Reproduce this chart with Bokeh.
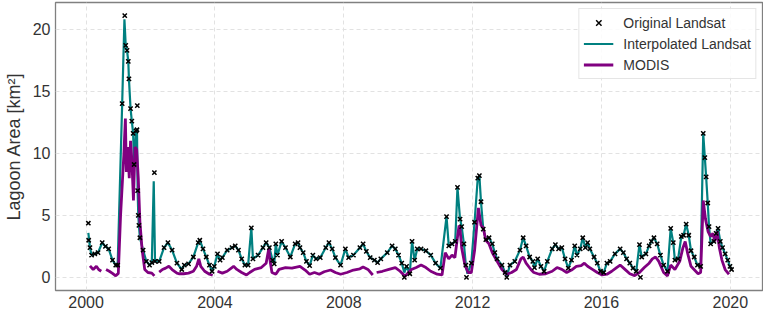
from bokeh.plotting import figure
from bokeh.models import Legend, LegendItem, FixedTicker
from bokeh.embed import file_html
from bokeh.resources import INLINE

nan = float("nan")

x_ticks = [2000, 2004, 2008, 2012, 2016, 2020]
x_tick_labels = ["2000", "2004", "2008", "2012", "2016", "2020"]
y_ticks = [0, 5, 10, 15, 20]
y_tick_labels = ["0", "5", "10", "15", "20"]

# Interpolated Landsat (teal line)
interp_years = [
    2000.07, 2000.12, 2000.17, 2000.27, 2000.37, 2000.50, 2000.60, 2000.70, 2000.82, 2000.92, 2000.98,
    2001.12, 2001.19, 2001.23, 2001.27, 2001.31, 2001.33, 2001.38, 2001.42, 2001.46, 2001.49,
    2001.55, 2001.58, 2001.60, 2001.62, 2001.64, 2001.67, 2001.77, 2001.87, 2001.97,
    2002.04, 2002.10, 2002.14, 2002.27, 2002.42, 2002.54, 2002.67, 2002.82, 2002.97,
    2003.05, 2003.18, 2003.33, 2003.48, 2003.53, 2003.63, 2003.73, 2003.83, 2003.91, 2003.98,
    2004.08, 2004.16, 2004.23, 2004.38, 2004.53, 2004.63, 2004.73, 2004.83, 2004.93,
    2005.03, 2005.13, 2005.18, 2005.34, 2005.49, 2005.59, 2005.69, 2005.79, 2005.84, 2005.89, 2005.94,
    2006.07, 2006.19, 2006.34, 2006.49, 2006.58, 2006.64, 2006.74, 2006.84, 2006.94,
    2007.04, 2007.14, 2007.27, 2007.44, 2007.54, 2007.64, 2007.74, 2007.90,
    2008.05, 2008.15, 2008.30, 2008.50, 2008.60, 2008.70, 2008.82, 2008.95,
    2009.05, 2009.15, 2009.35, 2009.50, 2009.60, 2009.70, 2009.80, 2009.88, 2009.95,
    2010.05, 2010.12, 2010.20, 2010.28, 2010.40, 2010.55, 2010.70, 2010.85,
    2011.00, 2011.19, 2011.26, 2011.36, 2011.46, 2011.53, 2011.61, 2011.66, 2011.73, 2011.79, 2011.84, 2011.96,
    2012.06, 2012.16, 2012.21, 2012.26, 2012.33, 2012.41, 2012.51, 2012.61, 2012.69, 2012.76, 2012.91,
    2013.01, 2013.06, 2013.16, 2013.31, 2013.47, 2013.57, 2013.66, 2013.77, 2013.87, 2013.92,
    2014.02, 2014.12, 2014.22, 2014.32, 2014.47, 2014.57, 2014.67, 2014.77, 2014.87, 2014.97,
    2015.07, 2015.17, 2015.24, 2015.34, 2015.42, 2015.50, 2015.57, 2015.64, 2015.77, 2015.87, 2015.97,
    2016.07, 2016.17, 2016.27, 2016.42, 2016.58, 2016.68, 2016.78, 2016.88, 2016.98,
    2017.08, 2017.18, 2017.25, 2017.38, 2017.48, 2017.55, 2017.63, 2017.73, 2017.83, 2017.93,
    2018.05, 2018.15, 2018.23, 2018.28, 2018.38, 2018.48, 2018.55, 2018.63, 2018.71, 2018.78, 2018.88, 2018.98,
    2019.08, 2019.16, 2019.21, 2019.25, 2019.30, 2019.34, 2019.39, 2019.49, 2019.56, 2019.62, 2019.69, 2019.76,
    2019.84, 2019.92, 2019.99, 2020.04,
]
interp_area = [
    3.6, 2.4, 1.8, 1.9, 2.0, 2.8, 2.5, 2.3, 1.4, 1.0, 1.0,
    14.0, 20.8, 18.7, 18.3, 17.4, 16.0, 13.6, 12.6, 11.6, 9.1,
    11.8, 11.9, 7.0, 5.0, 4.2, 3.2, 2.2, 1.3, 1.0,
    1.2, 7.75, 1.3, 1.3, 2.4, 2.8, 2.2, 1.15, 0.64,
    1.0, 1.1, 1.65, 2.8, 3.0, 2.3, 1.65, 1.0, 0.5, 0.9,
    1.9, 1.4, 1.6, 2.2, 2.4, 2.55, 2.2, 1.5, 1.0,
    1.0, 4.0, 1.5, 1.8, 2.4, 2.8, 2.4, 1.4, 1.1, 2.7, 1.8,
    2.9, 2.4, 1.65, 2.7, 2.8, 2.4, 2.0, 1.3, 0.95,
    1.8, 1.5, 1.6, 2.4, 2.8, 2.3, 1.6, 1.0,
    2.3, 1.6, 1.8, 2.4, 2.7, 2.1, 1.6, 1.4,
    1.2, 1.5, 2.0, 2.55, 2.3, 1.8, 1.15, 0.4, 0.9,
    0.3, 2.9, 1.4, 2.3, 2.3, 2.15, 1.8, 1.15,
    0.75, 4.9, 2.55, 2.7, 2.9, 7.25, 4.7, 4.1, 2.7, 1.0, 0.3, 1.15,
    4.45, 8.0, 8.2, 6.1, 3.9, 3.05, 3.2, 2.7, 2.0, 1.5, 1.0,
    0.4, 0.1, 1.0, 1.3, 2.2, 3.2, 2.55, 1.65, 1.3, 0.8,
    1.5, 0.9, 0.5, 1.3, 2.3, 2.65, 2.3, 2.4, 1.5, 0.76,
    1.4, 2.55, 1.8, 2.3, 3.2, 2.4, 2.8, 2.3, 1.65, 1.15, 0.5,
    0.4, 1.15, 1.3, 1.9, 2.3, 2.0, 1.5, 1.15, 0.76,
    0.5, 2.65, 1.65, 1.9, 2.55, 2.9, 3.2, 2.7, 1.8, 1.0,
    0.5, 3.95, 2.8, 1.4, 1.5, 3.3, 3.4, 4.3, 3.4, 2.15, 1.65, 1.0,
    0.9, 11.6, 9.65, 8.1, 6.0, 4.1, 2.7, 2.9, 3.55, 3.95, 2.9, 2.4,
    1.9, 1.4, 0.9, 0.64,
]

# Original Landsat observations (black crosses)
landsat_years = [
    2000.07, 2000.08, 2000.12, 2000.17, 2000.27, 2000.37, 2000.50, 2000.60, 2000.70, 2000.82, 2000.92, 2000.98,
    2001.12, 2001.20, 2001.23, 2001.27, 2001.31, 2001.33, 2001.38, 2001.42, 2001.46, 2001.49,
    2001.55, 2001.58, 2001.59, 2001.60, 2001.62, 2001.64, 2001.67, 2001.77, 2001.87, 2001.97,
    2002.04, 2002.12, 2002.14, 2002.27, 2002.42, 2002.54, 2002.67, 2002.82, 2002.97,
    2003.05, 2003.18, 2003.33, 2003.48, 2003.53, 2003.63, 2003.73, 2003.83, 2003.91, 2003.98,
    2004.08, 2004.16, 2004.23, 2004.38, 2004.53, 2004.63, 2004.73, 2004.83, 2004.93,
    2005.03, 2005.13, 2005.18, 2005.34, 2005.49, 2005.59, 2005.69, 2005.79, 2005.84, 2005.89, 2005.94,
    2006.07, 2006.19, 2006.34, 2006.49, 2006.58, 2006.64, 2006.74, 2006.84, 2006.94,
    2007.04, 2007.14, 2007.27, 2007.44, 2007.54, 2007.64, 2007.74, 2007.90,
    2008.05, 2008.15, 2008.30, 2008.50, 2008.60, 2008.70, 2008.82, 2008.95,
    2009.05, 2009.15, 2009.35, 2009.50, 2009.60, 2009.70, 2009.80, 2009.88, 2009.95,
    2010.05, 2010.12, 2010.20, 2010.28, 2010.40, 2010.55, 2010.70, 2010.85,
    2011.00, 2011.19, 2011.26, 2011.36, 2011.46, 2011.53, 2011.61, 2011.66, 2011.73, 2011.79, 2011.81, 2011.96,
    2012.06, 2012.16, 2012.21, 2012.26, 2012.33, 2012.41, 2012.51, 2012.61, 2012.69, 2012.76, 2012.91,
    2013.01, 2013.06, 2013.16, 2013.31, 2013.47, 2013.57, 2013.66, 2013.77, 2013.87, 2013.92,
    2014.02, 2014.12, 2014.22, 2014.32, 2014.47, 2014.57, 2014.67, 2014.77, 2014.87, 2014.97,
    2015.07, 2015.17, 2015.24, 2015.34, 2015.42, 2015.50, 2015.57, 2015.64, 2015.77, 2015.87, 2015.97,
    2016.07, 2016.17, 2016.27, 2016.42, 2016.58, 2016.68, 2016.78, 2016.88, 2016.98,
    2017.08, 2017.18, 2017.21, 2017.25, 2017.38, 2017.48, 2017.55, 2017.63, 2017.73, 2017.83, 2017.93,
    2018.05, 2018.15, 2018.23, 2018.28, 2018.38, 2018.48, 2018.55, 2018.63, 2018.71, 2018.78, 2018.88, 2018.98,
    2019.08, 2019.16, 2019.21, 2019.25, 2019.30, 2019.34, 2019.39, 2019.49, 2019.56, 2019.62, 2019.69, 2019.76,
    2019.84, 2019.92, 2019.99, 2020.04,
]
landsat_area = [
    4.37, 3.0, 2.4, 1.8, 1.9, 2.0, 2.8, 2.5, 2.3, 1.4, 1.0, 1.0,
    14.0, 21.1, 18.7, 18.3, 17.4, 16.0, 13.6, 12.6, 11.6, 9.1,
    11.8, 11.9, 13.85, 7.0, 5.0, 4.2, 3.2, 2.2, 1.3, 1.0,
    1.2, 8.44, 1.3, 1.3, 2.4, 2.8, 2.2, 1.15, 0.64,
    1.0, 1.1, 1.65, 2.8, 3.0, 2.3, 1.65, 1.0, 0.5, 0.9,
    1.9, 1.4, 1.6, 2.2, 2.4, 2.55, 2.2, 1.5, 1.0,
    1.0, 4.0, 1.5, 1.8, 2.4, 2.8, 2.4, 1.4, 1.1, 2.7, 1.8,
    2.9, 2.4, 1.65, 2.7, 2.8, 2.4, 2.0, 1.3, 0.95,
    1.8, 1.5, 1.6, 2.4, 2.8, 2.3, 1.6, 1.0,
    2.3, 1.6, 1.8, 2.4, 2.7, 2.1, 1.6, 1.4,
    1.2, 1.5, 2.0, 2.55, 2.3, 1.8, 1.15, 0.0, 0.9,
    0.3, 2.9, 1.4, 2.3, 2.3, 2.15, 1.8, 1.15,
    0.75, 4.9, 2.55, 2.7, 2.9, 7.25, 4.7, 4.1, 2.7, 1.0, 0.0, 1.15,
    4.45, 8.0, 8.2, 6.1, 3.9, 3.05, 3.2, 2.7, 2.0, 1.5, 1.0,
    0.4, 0.0, 1.0, 1.3, 2.2, 3.2, 2.55, 1.65, 1.3, 0.8,
    1.5, 0.9, 0.5, 1.3, 2.3, 2.65, 2.3, 2.4, 1.5, 0.76,
    1.4, 2.55, 1.8, 2.3, 3.2, 2.4, 2.8, 2.3, 1.65, 1.15, 0.5,
    0.4, 1.15, 1.3, 1.9, 2.3, 2.0, 1.5, 1.15, 0.76,
    0.5, 2.65, 0.0, 1.65, 1.9, 2.55, 2.9, 3.2, 2.7, 1.8, 1.0,
    0.5, 3.95, 2.8, 1.4, 1.5, 3.3, 3.4, 4.3, 3.4, 2.15, 1.65, 1.0,
    0.9, 11.6, 9.65, 8.1, 6.0, 4.1, 2.7, 2.9, 3.55, 3.95, 2.9, 2.4,
    1.9, 1.4, 0.9, 0.64,
]

# MODIS (purple line, gaps as nan)
modis_years = [
    2000.12, 2000.22, 2000.32, 2000.39, 2000.47, 2000.54, 2000.62, 2000.72, 2000.82, 2000.92, 2001.00,
    2001.07, 2001.17, 2001.22, 2001.25, 2001.29, 2001.34, 2001.38, 2001.42, 2001.47, 2001.52,
    2001.57, 2001.62, 2001.67, 2001.74, 2001.82, 2001.92, 2002.04, 2002.12, 2002.20,
    2002.27, 2002.37, 2002.47, 2002.57, 2002.67, 2002.82, 2002.88, 2003.03, 2003.18,
    2003.33, 2003.43, 2003.50, 2003.56, 2003.68, 2003.83, 2003.93, 2004.00,
    2004.08, 2004.23, 2004.38, 2004.58, 2004.68, 2004.83, 2004.98,
    2005.08, 2005.23, 2005.44, 2005.59, 2005.67, 2005.72, 2005.77, 2005.89, 2005.99,
    2006.19, 2006.39, 2006.64, 2006.80, 2006.94,
    2007.09, 2007.24, 2007.39, 2007.59, 2007.74, 2007.90,
    2008.10, 2008.30, 2008.50, 2008.60, 2008.75, 2008.90, 2008.96,
    2009.02, 2009.20, 2009.40, 2009.60, 2009.75, 2009.90,
    2010.10, 2010.25, 2010.40, 2010.55, 2010.70, 2010.90,
    2011.05, 2011.15, 2011.26, 2011.36, 2011.45, 2011.54, 2011.58, 2011.61, 2011.66, 2011.76, 2011.86, 2011.96,
    2012.06, 2012.18, 2012.26, 2012.33, 2012.41, 2012.51, 2012.61, 2012.76, 2012.91,
    2013.06, 2013.21, 2013.36, 2013.50, 2013.57, 2013.66, 2013.81, 2013.90,
    2014.07, 2014.27, 2014.47, 2014.62, 2014.77, 2014.92,
    2015.07, 2015.22, 2015.37, 2015.47, 2015.57, 2015.72, 2015.87,
    2016.02, 2016.17, 2016.32, 2016.47, 2016.58, 2016.73, 2016.88,
    2017.03, 2017.18, 2017.33, 2017.48, 2017.58, 2017.68, 2017.78, 2017.93,
    2018.05, 2018.15, 2018.28, 2018.43, 2018.53, 2018.60, 2018.68, 2018.78,
    2019.00, 2019.08, 2019.16, 2019.23, 2019.31, 2019.39, 2019.46, 2019.52, 2019.59, 2019.66,
    2019.74, 2019.84, 2019.96,
]
modis_area = [
    0.94, 0.64, 0.9, 0.64, 0.5, nan, 0.64, 0.5, 0.33, 0.13, 0.33,
    5.0, 9.8, 12.8, 8.5, 10.5, 8.0, 11.0, 9.5, 6.2, 10.5,
    10.3, 8.0, 4.5, 2.2, 0.65, 0.4, 0.35, 0.13, nan,
    0.43, 0.64, 0.75, 0.9, 0.64, 0.35, 0.3, 0.3, 0.35,
    0.5, 0.9, 1.5, 0.9, 0.5, 0.26, 0.18, nan,
    0.5, 0.35, 0.5, 0.9, 0.65, 0.4, 0.2,
    0.4, 0.65, 0.8, 1.15, 2.3, 1.2, 0.4, 0.26, 0.65,
    0.8, 0.75, 0.9, 0.6, 0.26,
    0.4, 0.26, 0.46, 0.6, 0.4, 0.26,
    0.4, 0.6, 0.7, 0.85, 0.65, 0.2, nan,
    0.4, 0.5, 0.65, 0.8, 0.5, 0.1,
    0.64, 0.8, 1.0, 0.8, 0.5, 0.26,
    0.2, 2.0, 1.5, 1.8, 1.6, 3.45, 4.2, 3.9, 2.4, 1.0, 0.4, 0.4,
    2.15, 5.6, 4.2, 4.0, 3.0, 2.7, 2.0, 1.3, 0.64,
    0.26, 0.4, 0.64, 1.5, 1.65, 1.15, 0.64, 0.4,
    0.26, 0.3, 0.5, 0.8, 0.65, 0.4,
    0.6, 0.9, 0.95, 1.15, 0.9, 0.65, 0.4,
    0.2, 0.26, 0.5, 0.8, 1.0, 0.65, 0.3,
    0.15, 0.4, 0.8, 1.15, 1.5, 1.65, 1.3, 0.4,
    0.13, 1.0, 0.64, 1.3, 2.4, 2.9, 1.9, 0.9,
    0.3, 0.4, 6.2, 4.7, 3.7, 3.3, 3.55, 2.9, 3.7, 2.4,
    1.4, 0.64, 0.26,
]

FONT = "Liberation Sans"
TEXT = "#333333"

p = figure(
    width=763, height=310,
    x_range=(1999.05, 2021.0), y_range=(-1.05, 22.15),
    output_backend="svg", toolbar_location=None,
    min_border_left=44, min_border_right=1, min_border_top=2, min_border_bottom=0,
)
p.background_fill_color = "white"
p.border_fill_color = "white"
p.outline_line_color = "#808080"
p.outline_line_width = 1.3

r_teal = p.line(interp_years, interp_area, line_color="teal", line_width=2.2)
r_modis = p.line(modis_years, modis_area, line_color="purple", line_width=2.8)
r_pts = p.scatter(landsat_years, landsat_area, marker="x", size=6,
                  line_color="black", line_width=1.5)

p.xaxis.ticker = FixedTicker(ticks=x_ticks)
p.xaxis.major_label_overrides = {t: l for t, l in zip(x_ticks, x_tick_labels)}
p.yaxis.ticker = FixedTicker(ticks=y_ticks)
p.yaxis.major_label_overrides = {t: l for t, l in zip(y_ticks, y_tick_labels)}

for ax in (p.xaxis[0], p.yaxis[0]):
    ax.axis_line_color = None
    ax.major_tick_line_color = None
    ax.minor_tick_line_color = None
    ax.major_tick_out = 0
    ax.major_tick_in = 0
    ax.minor_tick_out = 0
    ax.minor_tick_in = 0
    ax.major_label_text_font = FONT
    ax.major_label_text_font_size = "16px"
    ax.major_label_text_color = TEXT
    ax.major_label_standoff = 5

p.yaxis.axis_label = "Lagoon Area [km²]"
p.yaxis.axis_label_text_font = FONT
p.yaxis.axis_label_text_font_size = "18px"
p.yaxis.axis_label_text_font_style = "normal"
p.yaxis.axis_label_text_color = TEXT
p.yaxis.axis_label_standoff = 6

p.grid.grid_line_color = "#e2e2e2"
p.grid.grid_line_dash = "4 3"
p.grid.grid_line_width = 1

legend = Legend(
    items=[
        LegendItem(label="Original Landsat", renderers=[r_pts]),
        LegendItem(label="Interpolated Landsat", renderers=[r_teal]),
        LegendItem(label="MODIS", renderers=[r_modis]),
    ],
    location="top_right",
)
legend.label_text_font = FONT
legend.label_text_font_size = "14px"
legend.label_text_color = TEXT
legend.label_height = 19
legend.glyph_height = 19
legend.glyph_width = 30
legend.label_standoff = 10
legend.spacing = 2
legend.padding = 4
legend.margin = 6
legend.border_line_color = "#cccccc"
legend.border_line_width = 1
legend.background_fill_color = "white"
legend.background_fill_alpha = 0.85
p.add_layout(legend)

open("out.html", "w").write(file_html(p, INLINE))
